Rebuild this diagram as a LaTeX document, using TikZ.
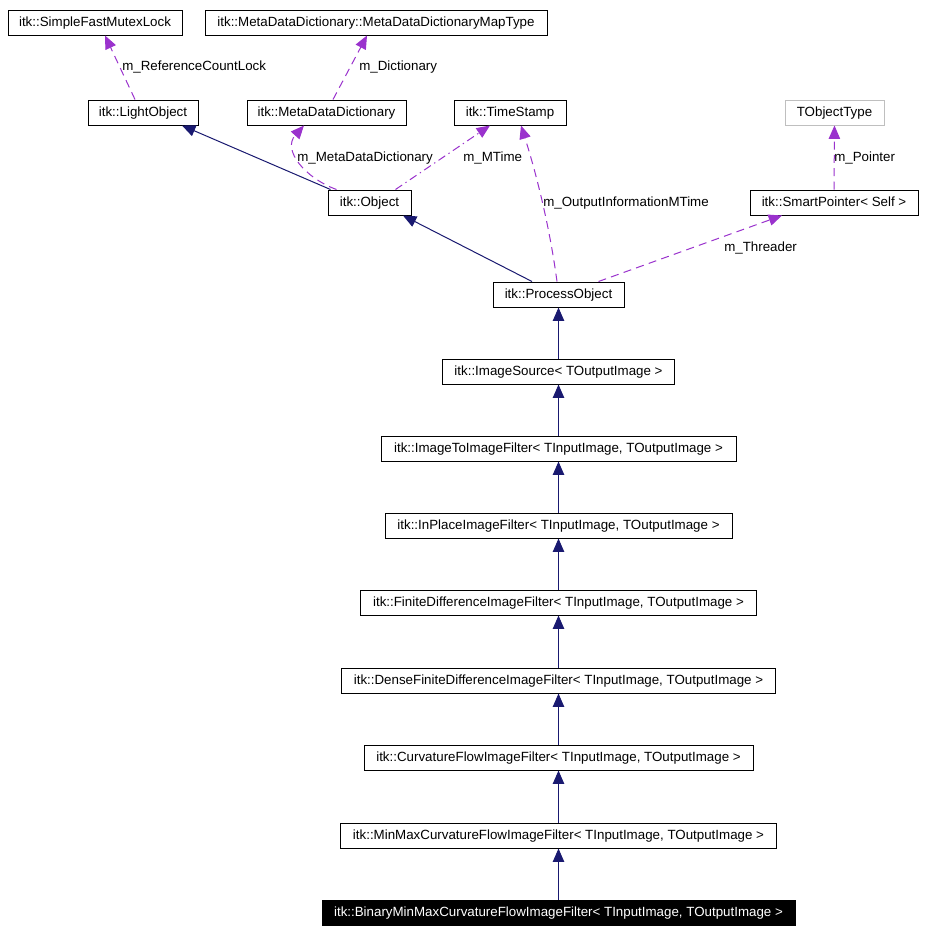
\documentclass[tikz,border=0pt]{standalone}
\usepackage{fontspec}
\setmainfont{Liberation Sans}
\usetikzlibrary{arrows.meta,calc}
\definecolor{navy}{HTML}{191970}
\definecolor{purp}{HTML}{9A32CD}
\definecolor{greyb}{HTML}{BFBFBF}
\begin{document}
\begin{tikzpicture}[x=0.75pt,y=-0.75pt,
  box/.style={draw=black,line width=0.75pt,inner sep=0pt,minimum height=18.75pt,text height=8.2pt,text depth=2pt,font=\fontsize{10}{12}\selectfont},
  inh/.style={navy,line width=0.75pt,-{Triangle[length=10pt,width=8.5pt]}},
  use/.style={purp,line width=0.75pt,dash pattern=on 6pt off 4pt,-{Triangle[length=10pt,width=8.5pt]}},
  usedd/.style={purp,line width=0.75pt,dash pattern=on 6pt off 3pt on 1pt off 3pt,-{Triangle[length=10pt,width=8.5pt]}},
  lbl/.style={anchor=west,inner sep=0pt,text height=8.2pt,text depth=2pt,font=\fontsize{10}{12}\selectfont}]
\useasboundingbox[fill=white] (0,0) rectangle (926,932);
% nodes
\node[box,minimum width=130.5pt] (A) at (95,22.5) {itk::SimpleFastMutexLock};
\node[box,minimum width=256.5pt] (B) at (376,22.5) {itk::MetaDataDictionary::MetaDataDictionaryMapType};
\node[box,minimum width=82.5pt] (C) at (143,112.5) {itk::LightObject};
\node[box,minimum width=119.25pt] (D) at (326.5,112.5) {itk::MetaDataDictionary};
\node[box,minimum width=84pt] (E) at (510,112.5) {itk::TimeStamp};
\node[box,draw=greyb,minimum width=74.25pt] (F) at (834.5,112.5) {TObjectType};
\node[box,minimum width=62.25pt] (G) at (369.5,202.5) {itk::Object};
\node[box,minimum width=126pt] (H) at (834,202.5) {itk::SmartPointer< Self >};
\node[box,minimum width=98.25pt] (I) at (558.5,294.5) {itk::ProcessObject};
\node[box,minimum width=174pt] (J) at (558.5,371.5) {itk::ImageSource< TOutputImage >};
\node[box,minimum width=266.25pt] (K) at (558.5,448.5) {itk::ImageToImageFilter< TInputImage, TOutputImage >};
\node[box,minimum width=260.25pt] (L) at (558.5,525.5) {itk::InPlaceImageFilter< TInputImage, TOutputImage >};
\node[box,minimum width=297pt] (M) at (558.5,602.5) {itk::FiniteDifferenceImageFilter< TInputImage, TOutputImage >};
\node[box,minimum width=325.5pt] (N) at (558.5,680.5) {itk::DenseFiniteDifferenceImageFilter< TInputImage, TOutputImage >};
\node[box,minimum width=291.75pt] (O) at (558.5,757.5) {itk::CurvatureFlowImageFilter< TInputImage, TOutputImage >};
\node[box,minimum width=327pt] (P) at (558.5,835.5) {itk::MinMaxCurvatureFlowImageFilter< TInputImage, TOutputImage >};
\node[box,draw=black,fill=black,text=white,minimum width=354.75pt] (Q) at (558.5,912.5) {itk::BinaryMinMaxCurvatureFlowImageFilter< TInputImage, TOutputImage >};
% inheritance
\draw[inh] (Q.north) -- (P.south);
\draw[inh] (P.north) -- (O.south);
\draw[inh] (O.north) -- (N.south);
\draw[inh] (N.north) -- (M.south);
\draw[inh] (M.north) -- (L.south);
\draw[inh] (L.north) -- (K.south);
\draw[inh] (K.north) -- (J.south);
\draw[inh] (J.north) -- (I.south);
\draw[inh] ($(I.north)+(-26.5,0)$) -- ($(G.south)+(33.5,0)$);
\draw[inh] ($(G.north west)+(3,0)$) -- ($(C.south)+(39,0)$);
% usage
\draw[use] ($(C.north)+(-8,0)$) -- ($(A.south)+(10,0)$);
\node[lbl] (lA) at (122,66) {m\_ReferenceCountLock};
\draw[use] ($(D.north)+(6.5,0)$) -- ($(B.south)+(-9,0)$);
\node[lbl] (lB) at (359,66) {m\_Dictionary};
\draw[use] ($(G.north west)+(9,0)$) .. controls (305,178) and (282,150) .. ($(D.south)+(-22.5,0)$);
\node[lbl] (lD) at (297,157) {m\_MetaDataDictionary};
\draw[usedd] ($(G.north east)+(-16,0)$) -- ($(E.south)+(-20,0)$);
\node[lbl] (lE) at (463,157) {m\_MTime};
\draw[use] ($(I.north)+(-1.5,0)$) .. controls (548,215) and (532,160) .. ($(E.south)+(11,0)$);
\node[lbl] (lE2) at (543,202) {m\_OutputInformationMTime};
\draw[use] ($(I.north east)+(-26,0)$) -- ($(H.south)+(-52,0)$);
\node[lbl] (lH) at (724,247) {m\_Threader};
\draw[use] (H.north) -- (F.south);
\node[lbl] (lF) at (834,157) {m\_Pointer};
\end{tikzpicture}
\end{document}
